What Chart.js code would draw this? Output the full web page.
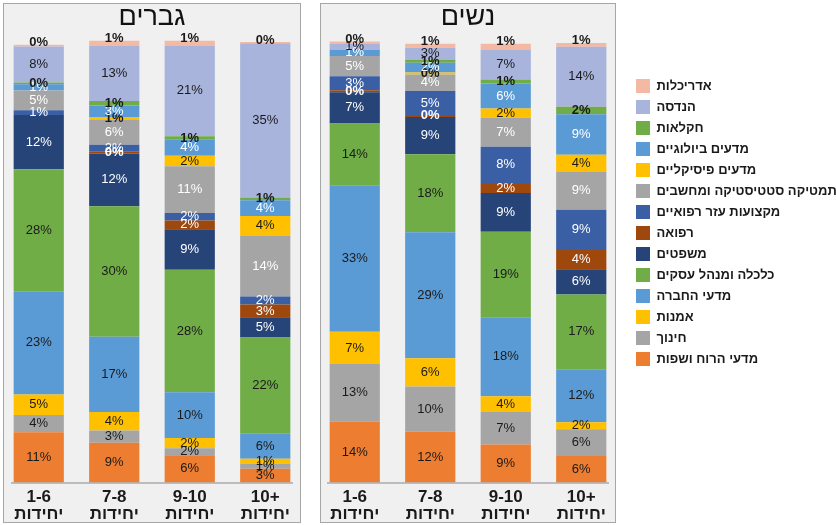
<!DOCTYPE html>
<html>
<head>
<meta charset="utf-8">
<script src="https://cdn.jsdelivr.net/npm/chart.js@4.4.1/dist/chart.umd.min.js"></script>
<style>
  html, body { margin: 0; padding: 0; background: #ffffff; }
  body { width: 836px; height: 525px; position: relative; overflow: hidden; direction: ltr; }
  .panel { position: absolute; top: 3px; height: 520px; background: #EFF0EF; border: 1.5px solid #A6A6A6; box-sizing: border-box; }
  #menPanel { left: 3px; width: 298px; }
  #womenPanel { left: 320px; width: 296px; }
  canvas { position: absolute; top: 0; direction: ltr; }
  #men { left: 1px; }
  #women { left: 317px; }
</style>
</head>
<body>
<div class="panel" id="menPanel"></div>
<div class="panel" id="womenPanel"></div>
<canvas id="men" width="302" height="525"></canvas>
<canvas id="women" width="519" height="525"></canvas>
<script>
// Fields of study, stacked bottom to top
const fields = [
  'מדעי הרוח ושפות',
  'חינוך',
  'אמנות',
  'מדעי החברה',
  'כלכלה ומנהל עסקים',
  'משפטים',
  'רפואה',
  'מקצועות עזר רפואיים',
  'מתמטיקה סטטיסטיקה ומחשבים',
  'מדעים פיסיקליים',
  'מדעים ביולוגיים',
  'חקלאות',
  'הנדסה',
  'אדריכלות'
];

const fieldColors = [
  '#ED7D31', '#A5A5A5', '#FFC000', '#5B9BD5', '#70AD47', '#264478', '#9E480E',
  '#3A5FA5', '#A5A5A5', '#FFC000', '#5B9BD5', '#70AD47', '#A8B4DB', '#F4B9A3'
];

// Math study level groups
const units = ['1-6', '7-8', '9-10', '10+'];
const unitsWord = 'יחידות';

// Share (%) of each field, in the order of `fields`, per study level
const men_1_6  = [11.4, 3.9, 4.7, 23.4, 27.7, 12.3, 0,   1.1, 4.5,  0,   1.4, 0.4, 8.2,  0.4];
const men_7_8  = [9.0,  2.8, 4.2, 17.1, 29.6, 12.0, 0.4, 1.6, 5.6,  0.7, 2.6, 1.0, 12.6, 1.1];
const men_9_10 = [6.2,  1.6, 2.3, 10.4, 27.8, 9.2,  2.0, 1.7, 10.6, 2.4, 3.6, 0.8, 20.6, 1.1];
const men_10p  = [3.1,  1.2, 1.1, 5.8,  21.7, 4.6,  2.9, 1.8, 13.9, 4.4, 3.6, 0.6, 35.0, 0.3];

const women_1_6  = [13.8, 13.1, 7.3, 33.3, 14.0, 7.1, 0.45, 3.2, 4.6, 0,    1.4, 0,   1.4,  0.45];
const women_7_8  = [11.6, 10.2, 6.4, 28.6, 17.7, 8.5, 0.45, 5.4, 3.8, 0.45, 2.2, 0.6, 2.8,  0.9];
const women_9_10 = [8.6,  7.4,  3.6, 17.9, 19.4, 8.8, 2.3,  8.2, 6.6, 2.1,  5.7, 0.9, 6.8,  1.3];
const women_10p  = [6.0,  6.1,  1.6, 12.0, 17.0, 5.7, 4.4,  9.1, 8.6, 3.9,  9.2, 1.7, 13.6, 0.9];

const FONT = "'Liberation Sans', Arial, 'DejaVu Sans', sans-serif";
const LIGHT_TEXT = [5, 6, 7, 8, 10];      // series with white value labels
const BOLD_TEXT = [11, 13];               // series with bold value labels
const LEGEND_W = 217;
const LRM = '\u200E';                     // keeps "10+" in left-to-right order

// Value labels drawn on every stacked segment
const valueLabels = {
  id: 'valueLabels',
  afterDatasetsDraw(chart) {
    const ctx = chart.ctx;
    ctx.save();
    ctx.direction = 'ltr';
    ctx.textAlign = 'center';
    ctx.textBaseline = 'middle';
    const last = chart.data.datasets.length - 1;
    chart.data.datasets.forEach((ds, di) => {
      const meta = chart.getDatasetMeta(di);
      meta.data.forEach((bar, j) => {
        const v = ds.data[j];
        if (!v) return;
        const bold = BOLD_TEXT.includes(di) || v < 1;
        ctx.font = (bold ? 'bold ' : '') + '13px ' + FONT;
        ctx.fillStyle = (LIGHT_TEXT.includes(di)) ? '#ffffff' : '#1a1a1a';
        let y = (bar.y + bar.base) / 2;
        if (di === last) y = bar.y - 2;
        ctx.fillText(Math.round(v) + '%', bar.x, y);
      });
    });
    ctx.restore();
  }
};

// Short category axis line under the bars
const baseLine = {
  id: 'baseLine',
  afterDatasetsDraw(chart) {
    const a = chart.chartArea;
    const ctx = chart.ctx;
    ctx.save();
    ctx.strokeStyle = '#ABABAB';
    ctx.lineWidth = 1.5;
    ctx.beginPath();
    ctx.moveTo(a.left + 10, a.bottom + 0.5);
    ctx.lineTo(a.right - 10, a.bottom + 0.5);
    ctx.stroke();
    ctx.restore();
  }
};

// Fixed legend column beside the second panel
const legendPlacement = {
  id: 'legendPlacement',
  afterInit(chart) {
    const lg = chart.legend;
    if (!lg) return;
    const fit0 = lg.fit.bind(lg);
    lg.fit = function () { fit0(); this.width = LEGEND_W; };
  },
  afterLayout(chart) {
    const lg = chart.legend;
    if (!lg) return;
    lg.left = 312; lg.right = lg.left + LEGEND_W;
    lg.top = 72; lg.bottom = 525;
  }
};

function makePanel(canvasId, title, bars, withLegend) {
  const datasets = fields.map((name, i) => ({
    label: name,
    data: bars.map(b => b[i]),
    backgroundColor: fieldColors[i],
    borderWidth: 0,
    barPercentage: 0.665,
    categoryPercentage: 1,
    clip: false
  }));
  const plugins = [valueLabels, baseLine];
  if (withLegend) plugins.push(legendPlacement);
  return new Chart(document.getElementById(canvasId), {
    type: 'bar',
    data: { labels: units, datasets },
    plugins,
    options: {
      responsive: false,
      animation: false,
      events: [],
      layout: { padding: { left: 0, right: 0, top: 0, bottom: 2.5 } },
      plugins: {
        title: {
          display: true,
          text: title,
          fullSize: !withLegend,
          color: '#111111',
          font: { family: FONT, size: 27, weight: 'normal', lineHeight: 1.2 },
          padding: { top: 1, bottom: 8.6 }
        },
        legend: {
          display: withLegend,
          position: 'right',
          align: 'start',
          reverse: true,
          labels: {
            boxWidth: 14,
            boxHeight: 14,
            padding: 7,
            color: '#1a1a1a',
            font: { family: FONT, size: 13, weight: 'bold' }
          }
        },
        tooltip: { enabled: false }
      },
      scales: {
        x: {
          stacked: true,
          grid: { display: false },
          border: { display: false },
          afterFit: s => { s.height = 40; },
          ticks: {
            padding: -2,
            color: '#1a1a1a',
            font: { family: FONT, size: 17, weight: 'bold', lineHeight: 1 },
            callback: (value, index) => [LRM + units[index] + LRM, unitsWord]
          }
        },
        y: {
          stacked: true,
          display: false,
          min: 0,
          max: 100
        }
      }
    }
  });
}

makePanel('men', 'גברים', [men_1_6, men_7_8, men_9_10, men_10p], false);
makePanel('women', 'נשים', [women_1_6, women_7_8, women_9_10, women_10p], true);
</script>
</body>
</html>
